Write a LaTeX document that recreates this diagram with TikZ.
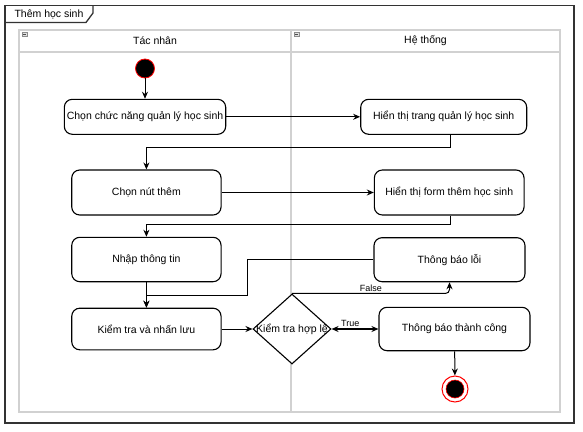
\documentclass[tikz,border=0pt]{standalone}
\usepackage{fontspec}
\setmainfont{Liberation Sans}
\usetikzlibrary{arrows.meta,shapes.geometric,calc}
\begin{document}
\begin{tikzpicture}[x=1pt,y=-1pt,
  >={Stealth[length=7pt,width=6pt]},
  act/.style={draw=black,line width=1.1pt,rounded corners=8pt,fill=white,inner sep=0pt,
    align=center,font=\fontsize{10.5}{12}\selectfont},
  flow/.style={draw=black,line width=1pt,->},
  lane/.style={draw=black!18,line width=1.2pt},
  hdr/.style={font=\fontsize{10.5}{12}\selectfont,inner sep=0pt},
  lbl/.style={font=\fontsize{9}{10}\selectfont,inner sep=1.5pt},
  minus/.style={draw=black!45,fill=black!12,line width=0.5pt},
  frame/.style={draw=black!80,line width=1.3pt}
]
\useasboundingbox (0,0) rectangle (583,431);

% outer frame with its name tab
\draw[frame] (5,5.5) rectangle (574,423);
\draw[frame] (5,22.5) -- (86,22.5) -- (93,13) -- (93,5.5);
\node[hdr] (title) at (49,14) {Thêm học sinh};

% swimlanes
\draw[lane] (19,30) rectangle (291,412);
\draw[lane] (291,30) rectangle (560,412);
\draw[lane] (19,52) -- (560,52);
\node[hdr] (laneA) at (155,41) {Tác nhân};
\node[hdr] (laneB) at (425.5,41) {Hệ thống};
\draw[minus] (22.3,31.8) rectangle (26.8,36.3);
\draw[black!70,line width=0.6pt] (23.3,34.05) -- (25.8,34.05);
\draw[minus] (294.3,31.8) rectangle (298.8,36.3);
\draw[black!70,line width=0.6pt] (295.3,34.05) -- (297.8,34.05);

% activities
\node[circle,draw=red,fill=black,minimum size=19pt,inner sep=0pt,line width=0.8pt] (start) at (145,68.5) {};
\node[act,minimum width=161.4pt,minimum height=35pt] (a1) at (145,116.8) {Chọn chức năng quản lý học sinh};
\node[act,minimum width=149.3pt,minimum height=45pt] (a2) at (146.4,192.5) {Chọn nút thêm};
\node[act,minimum width=149.3pt,minimum height=44.4pt] (a3) at (146.4,259.5) {Nhập thông tin};
\node[act,minimum width=149.3pt,minimum height=41.6pt] (a4) at (146.4,329) {Kiểm tra và nhấn lưu};
\node[act,minimum width=166pt,minimum height=35pt] (b1) at (443.7,116.8) {Hiển thị trang quản lý học sinh};
\node[act,minimum width=149.7pt,minimum height=45pt] (b2) at (449.2,192.5) {Hiển thị form thêm học sinh};
\node[act,minimum width=151pt,minimum height=44pt] (b3) at (449.5,259.7) {Thông báo lỗi};
\node[act,minimum width=151pt,minimum height=43.4pt] (b4) at (454.5,329) {Thông báo thành công};
\node[diamond,draw=black,line width=1.1pt,fill=white,inner sep=0pt,minimum width=78pt,minimum height=70pt,
  label={[hdr]center:Kiểm tra hợp lệ}] (dec) at (292,329) {};
\node[circle,draw=red,line width=1pt,fill=white,minimum size=26pt,inner sep=0pt] (end) at (455,389) {};
\node[circle,draw=red,line width=0.6pt,fill=black,minimum size=18pt,inner sep=0pt] (endin) at (end) {};

% transitions
\draw[flow] (start) -- (start |- a1.north);
\draw[flow] (a1) -- (b1);
\draw[flow] ($(b1.south)+(7,0)$) -- ++(0,13) -| (a2.north);
\draw[flow] (a2) -- (b2);
\draw[flow] ($(b2.south)+(1,0)$) -- ++(0,9) -| (a3.north);
\draw[flow] (a3) -- (a4);
\draw[flow] (b3.west) -| (247,295) -| (a4.north);
\draw[flow] (a4) -- (dec);
\draw[line width=1.6pt,<->] (dec.east) -- (b4.west) node[lbl,pos=0.4,above] {True};
\draw[flow,rounded corners=4pt] (dec.north) -| (b3.south) node[lbl,pos=0.25,above] {False};
\draw[flow] (b4) -- (end);
\end{tikzpicture}
\end{document}
